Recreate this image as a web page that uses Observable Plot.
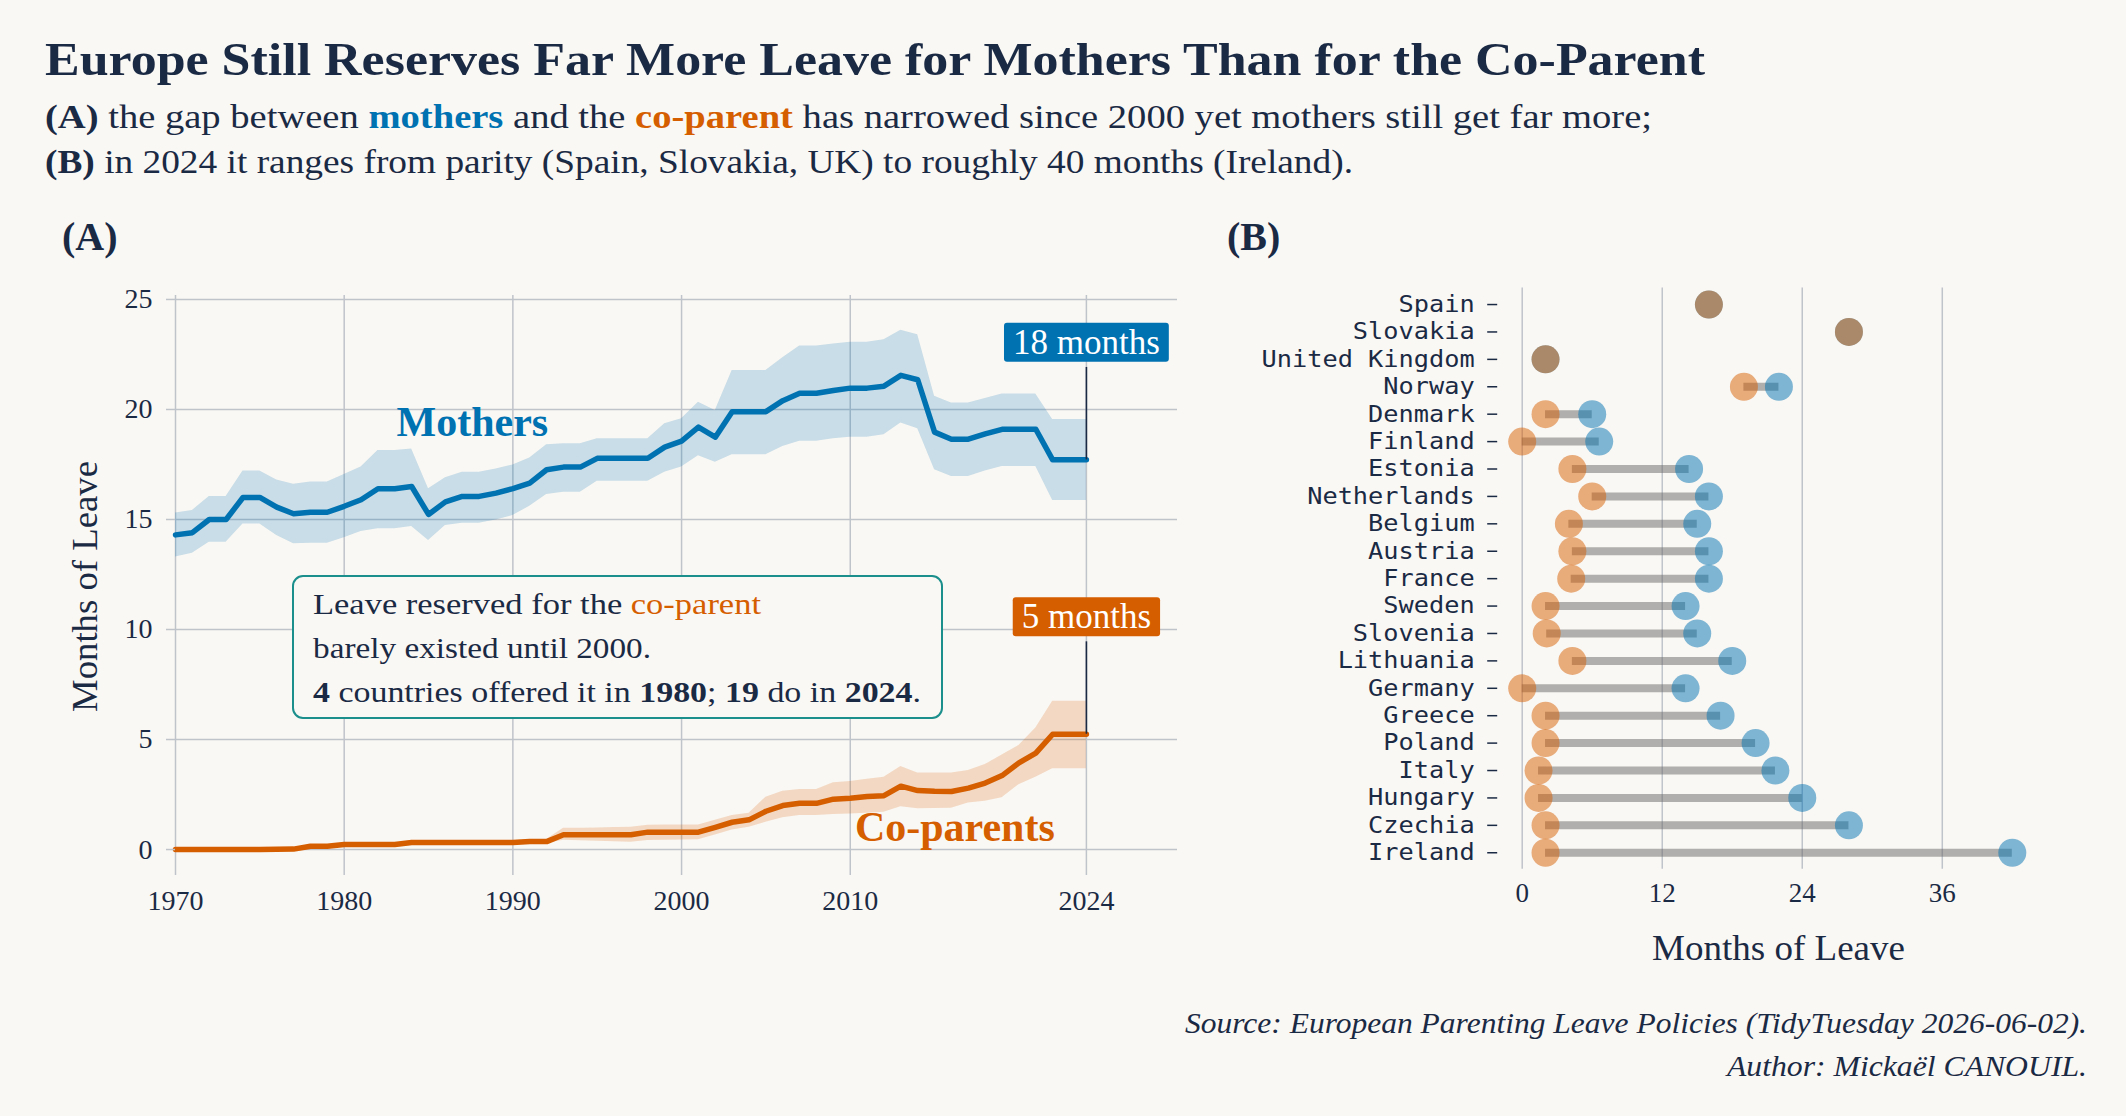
<!DOCTYPE html>
<html>
<head>
<meta charset="utf-8">
<script src="https://cdn.jsdelivr.net/npm/d3@7"></script>
<script src="https://cdn.jsdelivr.net/npm/@observablehq/plot@0.6"></script>
<style>
  html, body { margin: 0; padding: 0; background: #faf8f4; }
  #page { position: relative; width: 2126px; height: 1116px; background: #faf8f4; overflow: hidden; }
  #page > svg { position: absolute; top: 0; }
</style>
</head>
<body>
<div id="page"></div>
<script>
// ---------------- DATA: panel A (average months of reserved leave, 1970-2024) ----------------
const years = [1970,1971,1972,1973,1974,1975,1976,1977,1978,1979,
  1980,1981,1982,1983,1984,1985,1986,1987,1988,1989,
  1990,1991,1992,1993,1994,1995,1996,1997,1998,1999,
  2000,2001,2002,2003,2004,2005,2006,2007,2008,2009,
  2010,2011,2012,2013,2014,2015,2016,2017,2018,2019,
  2020,2021,2022,2023,2024];
const mothersMean = [14.3,14.4,15.0,15.0,16.0,16.0,15.56,15.26,15.33,15.33,
  15.6,15.9,16.4,16.4,16.5,15.23,15.8,16.05,16.05,16.2,
  16.4,16.65,17.26,17.38,17.38,17.78,17.78,17.78,17.78,18.29,
  18.56,19.2,18.74,19.9,19.9,19.9,20.4,20.74,20.74,20.86,
  20.97,20.97,21.06,21.55,21.35,18.97,18.65,18.65,18.89,19.1,
  19.1,19.1,17.71,17.71,17.71];
const mothersHigh = [15.29,15.41,16.05,16.05,17.2,17.2,16.8,16.6,16.7,16.7,
  17.05,17.38,18.14,18.14,18.2,16.4,16.9,17.15,17.15,17.3,
  17.48,17.8,18.4,18.44,18.44,18.67,18.67,18.67,18.67,19.35,
  19.58,20.33,19.95,21.77,21.77,21.77,22.35,22.88,22.88,22.98,
  23.06,23.06,23.17,23.6,23.4,20.6,20.3,20.3,20.5,20.7,
  20.7,20.7,19.55,19.55,19.55];
const mothersLow = [13.29,13.47,13.97,13.97,14.8,14.8,14.27,13.9,13.92,13.92,
  14.17,14.45,14.58,14.58,14.68,14.05,14.73,14.83,14.83,14.98,
  15.18,15.6,16.14,16.24,16.24,16.74,16.74,16.74,16.74,17.15,
  17.38,17.9,17.6,17.94,17.94,17.94,18.32,18.56,18.56,18.67,
  18.74,18.74,18.85,19.38,19.12,17.26,16.95,16.95,17.2,17.41,
  17.41,17.41,15.86,15.86,15.86];
const coparentMean = [0,0,0,0,0,0,0.01,0.02,0.15,0.15,
  0.23,0.23,0.23,0.23,0.32,0.32,0.32,0.32,0.32,0.32,
  0.32,0.36,0.36,0.67,0.67,0.67,0.67,0.67,0.79,0.79,
  0.79,0.79,1.01,1.24,1.35,1.74,2.0,2.1,2.1,2.29,
  2.33,2.41,2.45,2.88,2.68,2.65,2.64,2.79,3.02,3.36,
  3.94,4.38,5.24,5.24,5.24];
const coparentHigh = [0,0,0,0,0,0,0.02,0.04,0.22,0.22,
  0.3,0.3,0.3,0.3,0.4,0.4,0.4,0.4,0.4,0.4,
  0.4,0.46,0.46,0.97,0.97,0.98,1.0,1.01,1.1,1.11,
  1.11,1.12,1.33,1.55,1.65,2.38,2.65,2.73,2.73,3.03,
  3.09,3.2,3.29,3.77,3.48,3.48,3.48,3.59,3.86,4.3,
  4.73,5.52,6.74,6.74,6.74];
const coparentLow = [0,0,0,0,0,0,0,0,0.08,0.08,
  0.16,0.16,0.16,0.16,0.24,0.24,0.24,0.24,0.24,0.24,
  0.24,0.27,0.27,0.42,0.4,0.38,0.35,0.33,0.41,0.42,
  0.43,0.44,0.66,0.89,1.01,1.24,1.44,1.55,1.55,1.59,
  1.62,1.65,1.7,1.95,1.85,1.87,1.88,2.12,2.2,2.35,
  2.95,3.29,3.67,3.67,3.67];
const xTicksA = [1970, 1980, 1990, 2000, 2010, 2024];
const yTicksA = [0, 5, 10, 15, 20, 25];
const seriesNames = ["Mothers", "Co-parents"];
const seriesLabelYear = [1987.6, 2016.2];
const seriesLabelValue = [19.42, 0.98];

// ---------------- DATA: panel B (months of leave in 2024, by country) ----------------
const countries = ["Spain","Slovakia","United Kingdom","Norway","Denmark","Finland","Estonia",
  "Netherlands","Belgium","Austria","France","Sweden","Slovenia","Lithuania","Germany",
  "Greece","Poland","Italy","Hungary","Czechia","Ireland"];
const mothers2024 = [16,28,2,22,6,6.6,14.3,16,15,16,16,14,15,18,14,17,20,21.7,24,28,42];
const coparent2024 = [16,28,2,19,2,0,4.3,6,4,4.3,4.2,2,2.1,4.3,0,2,2,1.4,1.4,2,2];
const xTicksB = [0, 12, 24, 36];

// ---------------- STYLE ----------------
const C = { blue: "#0072B2", orange: "#D55E00", navy: "#1b2a44", grid: "#bfc3ca", bg: "#faf8f4", teal: "#1a8f8c" };
const SERIF = "Liberation Serif";
const MONO_SIZE = 23;

// ---------------- PANEL A ----------------
const tableA = years.map((year, i) => ({
  year, m: mothersMean[i], mLo: mothersLow[i], mHi: mothersHigh[i],
  c: coparentMean[i], cLo: coparentLow[i], cHi: coparentHigh[i]
}));
const last = tableA[tableA.length - 1];
const ends = [
  { year: last.year, value: last.m, label: `${Math.round(last.m)} months`, color: C.blue },
  { year: last.year, value: last.c, label: `${Math.round(last.c)} months`, color: C.orange }
];
const seriesLabels = seriesNames.map((label, i) => ({ label, year: seriesLabelYear[i], value: seriesLabelValue[i] }));

const plotA = Plot.plot({
  width: 1190, height: 1116,
  marginLeft: 175, marginRight: 13, marginTop: 295, marginBottom: 241,
  x: { domain: [1970, 2029.4] },
  y: { domain: [-1.18, 25.18] },
  style: { fontFamily: SERIF, fontSize: "28px", color: C.navy, background: "transparent", overflow: "visible" },
  marks: [
    Plot.gridY(yTicksA, { stroke: C.grid, strokeOpacity: 1, strokeWidth: 1.5 }),
    Plot.gridX(xTicksA, { stroke: C.grid, strokeOpacity: 1, strokeWidth: 1.5 }),
    Plot.areaY(tableA, { x: "year", y1: "mLo", y2: "mHi", fill: C.blue, fillOpacity: 0.2 }),
    Plot.areaY(tableA, { x: "year", y1: "cLo", y2: "cHi", fill: C.orange, fillOpacity: 0.2 }),
    Plot.lineY(tableA, { x: "year", y: "m", stroke: C.blue, strokeWidth: 5.5 }),
    Plot.lineY(tableA, { x: "year", y: "c", stroke: C.orange, strokeWidth: 5.5 }),
    Plot.ruleX(ends, { x: "year", y1: "value", y2: d => d.value + 4.2, stroke: C.navy, strokeWidth: 1.6 }),
    Plot.text(ends, { x: "year", y: d => d.value + 5.33, text: "label", fill: "white", fontSize: 35, ariaDescription: "end-label" }),
    Plot.text(seriesLabels.slice(0, 1), { x: "year", y: "value", text: "label", fill: C.blue, fontSize: 42, fontWeight: "bold" }),
    Plot.text(seriesLabels.slice(1), { x: "year", y: "value", text: "label", fill: C.orange, fontSize: 42, fontWeight: "bold" }),
    Plot.axisY(yTicksA, { tickSize: 9, tickPadding: 14, stroke: C.grid, strokeWidth: 1.5, label: null, fontSize: 28 }),
    Plot.axisX(xTicksA, { tickSize: 0, tickPadding: 15, tickFormat: "d", label: null, fontSize: 28 })
  ]
});
plotA.style.left = "0px";

// ---------------- PANEL B ----------------
const tableB = countries.map((country, i) => ({ country, mo: mothers2024[i], co: coparent2024[i] }));
const plotB = Plot.plot({
  width: 936, height: 1116,
  marginLeft: 307.2, marginRight: 89.7, marginTop: 287.6, marginBottom: 247.3,
  x: { domain: [-2.1, 44.1] },
  y: { type: "point", domain: countries, padding: 0.6, round: false },
  style: { fontFamily: SERIF, fontSize: "27px", color: C.navy, background: "transparent", overflow: "visible" },
  marks: [
    Plot.gridX(xTicksB, { stroke: C.grid, strokeOpacity: 1, strokeWidth: 1.5 }),
    Plot.ruleY(tableB, { y: "country", x1: "co", x2: "mo", stroke: "#666666", strokeOpacity: 0.5, strokeWidth: 8 }),
    Plot.dot(tableB, { x: "mo", y: "country", r: 14, fill: C.blue, fillOpacity: 0.5 }),
    Plot.dot(tableB, { x: "co", y: "country", r: 14, fill: C.orange, fillOpacity: 0.5 }),
    Plot.axisY({ tickSize: 10, tickPadding: 13, stroke: C.navy, strokeWidth: 1.5, label: null, fontFamily: "DejaVu Sans Mono", fontSize: MONO_SIZE, ariaDescription: "country-labels" }),
    Plot.axisX(xTicksB, { tickSize: 0, tickPadding: 14, label: null, fontSize: 27 })
  ]
});
plotB.style.left = "1190px";

const page = document.getElementById("page");
page.appendChild(plotA);
page.appendChild(plotB);

// boxes behind the end-of-line value labels
(function () {
  const g = plotA.querySelector('g[aria-description="end-label"]');
  const texts = g ? Array.from(g.querySelectorAll("text"))
                  : Array.from(plotA.querySelectorAll("text")).filter(t => /months$/.test(t.textContent));
  texts.forEach((t, i) => {
    const bb = t.getBBox();
    const r = document.createElementNS("http://www.w3.org/2000/svg", "rect");
    const cy = bb.y + bb.height / 2;
    r.setAttribute("x", bb.x - 9);
    r.setAttribute("width", bb.width + 18);
    r.setAttribute("y", cy - 19.5);
    r.setAttribute("height", 39);
    r.setAttribute("rx", 3);
    r.setAttribute("fill", ends[i] ? ends[i].color : C.blue);
    const tr = t.getAttribute("transform");
    if (tr) r.setAttribute("transform", tr);
    t.parentNode.insertBefore(r, t);
  });
})();

// country labels: smaller glyphs (no vertical collisions), slightly widened to keep the reference's extent
(function () {
  const names = new Set(countries);
  Array.from(plotB.querySelectorAll("text"))
    .filter(t => names.has(t.textContent))
    .forEach(t => {
      t.setAttribute("textLength", t.textContent.length * 0.602 * MONO_SIZE * 1.1);
      t.setAttribute("lengthAdjust", "spacingAndGlyphs");
    });
})();

// ---------------- TEXT OVERLAY ----------------
const ov = d3.select(page).append("svg")
  .attr("width", 2126).attr("height", 1116)
  .style("left", "0px").style("top", "0px")
  .attr("font-family", SERIF).attr("fill", C.navy);

function textLine(x, y, parts, { size, anchor = "start", length = null, italic = false, bold = false, transform = null } = {}) {
  const t = ov.append("text")
    .attr("x", x).attr("y", y)
    .attr("font-size", size)
    .attr("text-anchor", anchor)
    .attr("font-style", italic ? "italic" : "normal")
    .attr("font-weight", bold ? "bold" : "normal");
  if (transform) t.attr("transform", transform);
  if (length) t.attr("textLength", length).attr("lengthAdjust", "spacingAndGlyphs");
  parts.forEach(p => {
    const s = typeof p === "string" ? { t: p } : p;
    const ts = t.append("tspan").text(s.t);
    if (s.b) ts.attr("font-weight", "bold");
    if (s.c) ts.attr("fill", s.c);
  });
  return t;
}

textLine(45, 75, ["Europe Still Reserves Far More Leave for Mothers Than for the Co-Parent"], { size: 46, bold: true, length: 1660 });
textLine(45, 128, [{ t: "(A)", b: true }, " the gap between ", { t: "mothers", b: true, c: C.blue }, " and the ",
  { t: "co-parent", b: true, c: C.orange }, " has narrowed since 2000 yet mothers still get far more;"], { size: 33, length: 1607 });
textLine(45, 173, [{ t: "(B)", b: true }, " in 2024 it ranges from parity (Spain, Slovakia, UK) to roughly 40 months (Ireland)."], { size: 33, length: 1308 });

textLine(62, 250, ["(A)"], { size: 40, bold: true });
textLine(1227, 250, ["(B)"], { size: 40, bold: true });

textLine(0, 0, ["Months of Leave"], { size: 35, anchor: "middle", length: 251, transform: "translate(97,586.5) rotate(-90)" });
textLine(1778.5, 960, ["Months of Leave"], { size: 35, anchor: "middle", length: 253 });

textLine(2087, 1033, ["Source: European Parenting Leave Policies (TidyTuesday 2026-06-02)."], { size: 30, anchor: "end", italic: true, length: 902 });
textLine(2087, 1076, ["Author: Mickaël CANOUIL."], { size: 30, anchor: "end", italic: true, length: 360 });

// annotation box in panel A
ov.append("rect").attr("x", 293).attr("y", 576).attr("width", 649).attr("height", 142)
  .attr("rx", 10).attr("fill", C.bg).attr("stroke", C.teal).attr("stroke-width", 2);
textLine(313, 614.3, ["Leave reserved for the ", { t: "co-parent", c: C.orange }], { size: 30, length: 448 });
textLine(313, 658.3, ["barely existed until 2000."], { size: 30, length: 338 });
textLine(313, 701.7, [{ t: "4", b: true }, " countries offered it in ", { t: "1980", b: true }, "; ",
  { t: "19", b: true }, " do in ", { t: "2024", b: true }, "."], { size: 30, length: 608 });
</script>
</body>
</html>
